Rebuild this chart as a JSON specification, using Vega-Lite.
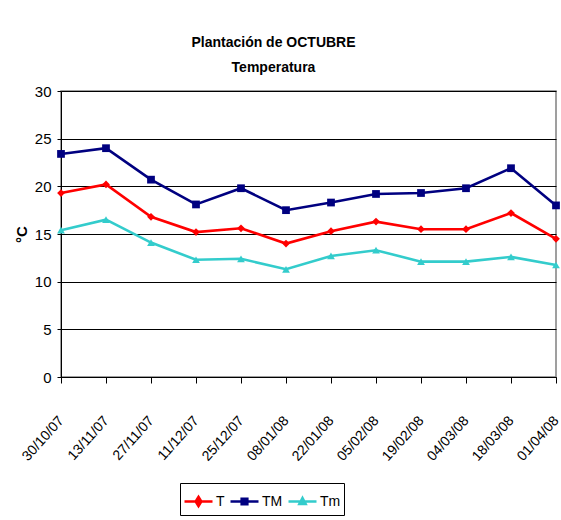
{
  "$schema": "https://vega.github.io/schema/vega-lite/v6.json",
  "width": 495,
  "height": 286,
  "autosize": "none",
  "padding": {"left": 61, "top": 91, "right": 5, "bottom": 143},
  "background": "white",
  "title": {
    "text": ["Plantación de OCTUBRE", "Temperatura"],
    "font": "Liberation Sans",
    "fontSize": 14,
    "fontWeight": "bold",
    "color": "black",
    "anchor": "middle",
    "dx": -35,
    "lineHeight": 25,
    "offset": 9
  },
  "data": {
    "values": [
      {"date": "30/10/07", "series": "T", "value": 19.3},
      {"date": "13/11/07", "series": "T", "value": 20.2},
      {"date": "27/11/07", "series": "T", "value": 16.8},
      {"date": "11/12/07", "series": "T", "value": 15.2},
      {"date": "25/12/07", "series": "T", "value": 15.6},
      {"date": "08/01/08", "series": "T", "value": 14.0},
      {"date": "22/01/08", "series": "T", "value": 15.3},
      {"date": "05/02/08", "series": "T", "value": 16.3},
      {"date": "19/02/08", "series": "T", "value": 15.5},
      {"date": "04/03/08", "series": "T", "value": 15.5},
      {"date": "18/03/08", "series": "T", "value": 17.2},
      {"date": "01/04/08", "series": "T", "value": 14.5},
      {"date": "30/10/07", "series": "TM", "value": 23.4},
      {"date": "13/11/07", "series": "TM", "value": 24.0},
      {"date": "27/11/07", "series": "TM", "value": 20.7},
      {"date": "11/12/07", "series": "TM", "value": 18.1},
      {"date": "25/12/07", "series": "TM", "value": 19.8},
      {"date": "08/01/08", "series": "TM", "value": 17.5},
      {"date": "22/01/08", "series": "TM", "value": 18.3},
      {"date": "05/02/08", "series": "TM", "value": 19.2},
      {"date": "19/02/08", "series": "TM", "value": 19.3},
      {"date": "04/03/08", "series": "TM", "value": 19.8},
      {"date": "18/03/08", "series": "TM", "value": 21.9},
      {"date": "01/04/08", "series": "TM", "value": 18.0},
      {"date": "30/10/07", "series": "Tm", "value": 15.4},
      {"date": "13/11/07", "series": "Tm", "value": 16.5},
      {"date": "27/11/07", "series": "Tm", "value": 14.1},
      {"date": "11/12/07", "series": "Tm", "value": 12.3},
      {"date": "25/12/07", "series": "Tm", "value": 12.4},
      {"date": "08/01/08", "series": "Tm", "value": 11.3},
      {"date": "22/01/08", "series": "Tm", "value": 12.7},
      {"date": "05/02/08", "series": "Tm", "value": 13.3},
      {"date": "19/02/08", "series": "Tm", "value": 12.1},
      {"date": "04/03/08", "series": "Tm", "value": 12.1},
      {"date": "18/03/08", "series": "Tm", "value": 12.6},
      {"date": "01/04/08", "series": "Tm", "value": 11.75}
    ]
  },
  "encoding": {
    "x": {
      "field": "date",
      "type": "ordinal",
      "sort": null,
      "scale": {"type": "point", "padding": 0},
      "axis": {
        "title": null,
        "labelAngle": -48,
        "labelAlign": "right",
        "labelBaseline": "middle",
        "labelPadding": 35,
        "tickSize": 6,
        "grid": false,
        "labelFontSize": 14
      }
    },
    "y": {
      "field": "value",
      "type": "quantitative",
      "scale": {"domain": [0, 30], "nice": false},
      "axis": {
        "title": "°C",
        "titleFont": "Liberation Sans",
        "titleFontSize": 15,
        "titleFontWeight": "bold",
        "titleColor": "black",
        "titlePadding": 5,
        "values": [0, 5, 10, 15, 20, 25, 30],
        "tickSize": 4,
        "labelPadding": 6,
        "labelFontSize": 15,
        "grid": true,
        "gridColor": "black",
        "gridOpacity": 1,
        "gridWidth": 1
      }
    }
  },
  "layer": [
    {
      "mark": {"type": "line", "strokeWidth": 2.6},
      "encoding": {
        "color": {
          "field": "series",
          "type": "nominal",
          "scale": {"domain": ["T", "TM", "Tm"], "range": ["#ff0000", "#000080", "#33cccc"]},
          "legend": null
        }
      }
    },
    {
      "mark": {"type": "point", "filled": true, "opacity": 1, "size": 60},
      "encoding": {
        "color": {
          "field": "series",
          "type": "nominal",
          "scale": {"domain": ["T", "TM", "Tm"], "range": ["#ff0000", "#000080", "#33cccc"]},
          "legend": null
        },
        "shape": {
          "field": "series",
          "type": "nominal",
          "scale": {"domain": ["T", "TM", "Tm"], "range": ["diamond", "square", "triangle-up"]},
          "legend": null
        }
      }
    },
    {
      "transform": [{"filter": "false"}],
      "mark": {"type": "point", "filled": true, "opacity": 1, "strokeWidth": 2.6},
      "encoding": {
        "fill": {
          "field": "series",
          "type": "nominal",
          "scale": {"domain": ["T", "TM", "Tm"], "range": ["#ff0000", "#000080", "#33cccc"]},
          "legend": {"title": null}
        },
        "stroke": {
          "field": "series",
          "type": "nominal",
          "scale": {"domain": ["T", "TM", "Tm"], "range": ["#ff0000", "#000080", "#33cccc"]},
          "legend": {"title": null}
        },
        "shape": {
          "field": "series",
          "type": "nominal",
          "scale": {
            "domain": ["T", "TM", "Tm"],
            "range": [
              "M-1,0L1,0M0,-0.32L0.2,0L0,0.32L-0.2,0Z",
              "M-1,0L1,0M-0.2,-0.2L0.2,-0.2L0.2,0.2L-0.2,0.2Z",
              "M-1,0L1,0M0,-0.24L0.22,0.18L-0.22,0.18Z"
            ]
          },
          "legend": {
            "title": null,
            "orient": "none",
            "direction": "horizontal",
            "gridAlign": "none",
            "legendX": 119,
            "legendY": 392,
            "symbolSize": 784,
            "symbolStrokeWidth": 2.6,
            "labelFont": "Liberation Sans",
            "labelFontSize": 14,
            "labelColor": "black",
            "labelOffset": 2,
            "columnPadding": 0,
            "strokeColor": "black",
            "fillColor": "white",
            "padding": 3
          }
        }
      }
    }
  ],
  "resolve": {
    "scale": {"shape": "independent", "fill": "independent", "stroke": "independent"},
    "legend": {"shape": "independent", "fill": "independent", "stroke": "independent"}
  },
  "config": {
    "view": {"stroke": "#808080", "strokeWidth": 1.5},
    "axis": {
      "labelFont": "Liberation Sans",
      "labelColor": "black",
      "domainColor": "black",
      "domainWidth": 1,
      "tickColor": "black",
      "tickWidth": 1
    }
  }
}
